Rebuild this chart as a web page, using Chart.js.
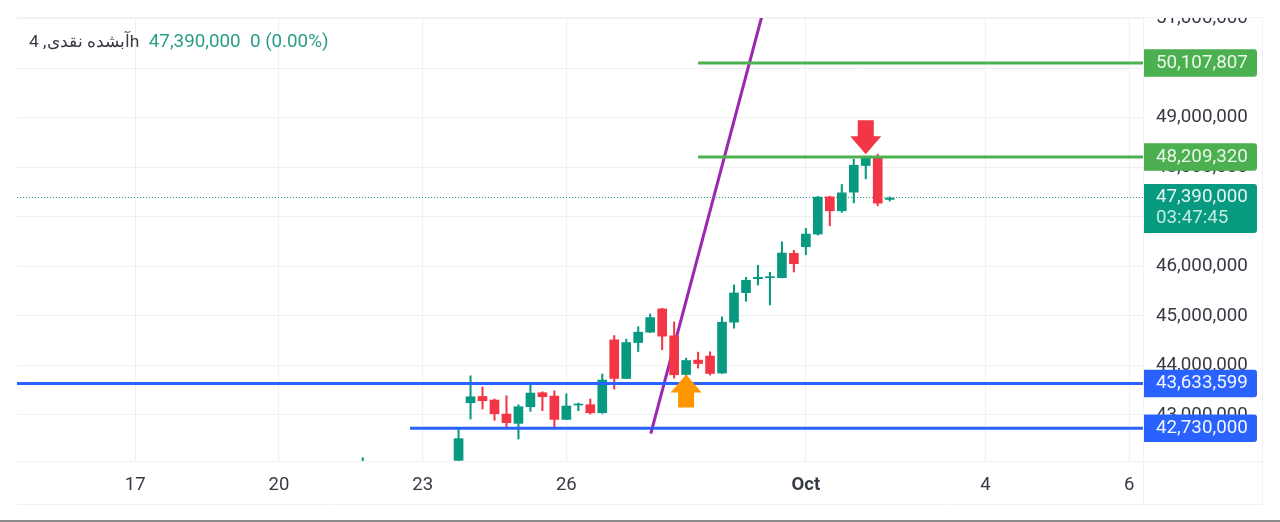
<!DOCTYPE html>
<html><head><meta charset="utf-8">
<style>
html,body{margin:0;padding:0;background:#fff;width:1280px;height:522px;overflow:hidden}
#wrap{position:absolute;left:17px;top:17px;width:1246px;height:488px}
canvas{display:block}
#title{position:absolute;left:29px;top:30px;font:18.8px Roboto,sans-serif;line-height:22px;color:#363a45;white-space:pre}
#title bdi{font-size:17.4px}
#title span{color:#2a9d8a}
#foot{position:absolute;left:0;top:520px;width:1280px;height:2px;background:#8a8a8a}
</style>
<script src="https://cdn.jsdelivr.net/npm/chart.js@4"></script>
</head><body>
<div id="wrap"><canvas id="c" width="1246" height="488"></canvas></div>
<div id="title"></div>
<div id="foot"></div>
<script>
const titleName = "آبشده نقدی, 4h";
const titleQuote = "47,390,000  0 (0.00%)";
const candleIndex = [-8,0,1,2,3,4,5,6,7,8,9,10,11,12,13,14,15,16,17,18,19,20,21,22,23,24,25,26,27,28,29,30,31,32,33,34,35,36];
const opens  = [41950000,42081000,43244000,43371000,43299000,43016000,42827000,43163000,43446000,43379000,42907000,43198000,43204000,43042000,44514000,43734000,44460000,44669000,45139000,44595000,43815000,44105000,44186000,43843000,44871000,45468000,45750000,45770000,45770000,46262000,46395000,46651000,47403000,47121000,47498000,48036000,48190000,47351000];
const highs  = [42135000,42734000,43788000,43561000,43319000,43385000,43204000,43601000,43466000,43486000,43426000,43238000,43319000,43823000,44601000,44528000,44782000,45038000,45153000,44877000,44145000,44266000,44272000,44978000,45623000,45778000,46020000,45879000,46496000,46323000,46766000,47411000,47417000,47653000,48163000,48210000,48264000,47403000];
const lows   = [41900000,42075000,42915000,43117000,42887000,42754000,42512000,43069000,43083000,42714000,42901000,43083000,43016000,43028000,43520000,43728000,44278000,44661000,44313000,43742000,43540000,43944000,43803000,43835000,44750000,45294000,45623000,45220000,45764000,45885000,46234000,46631000,46819000,47089000,47282000,47766000,47222000,47317000];
const closes = [42050000,42518000,43365000,43284000,43022000,42841000,43163000,43440000,43365000,42907000,43178000,43218000,43042000,43702000,43734000,44460000,44669000,44964000,44589000,43809000,44097000,44036000,43835000,44871000,45462000,45718000,45778000,45790000,46268000,46052000,46651000,47397000,47121000,47484000,48042000,48190000,47276000,47377000];
const xTickValues = [-27,-15,-3,9,29,44,56];
const xTickLabels = ["17","20","23","26","Oct","4","6"];
const lineBlueHigh = 43633599, lineBlueLow = 42730000, lineGreenHigh = 50107807, lineGreenLow = 48209320;
const lastPrice = 47390000;
const countdown = "03:47:45";
const blueLowStart = -4.05, greenStart = 20;
const trendX = [16.05, 25.3], trendY = [42620000, 51030000];
const xMin = -36.87, xMax = 57.15, yMin = 42067000, yMax = 51036000;
const arrowX = [19, 34];
const arrowTip = [43813000, 48264000];
const arrowTail = [43148000, 48950000];
const arrowColors = ["#FF9800", "#F23645"];
const tags = [
  {v:lineGreenHigh,bg:"#4CAF50",fg:"#E8F8E9"},
  {v:lineGreenLow,bg:"#4CAF50",fg:"#E8F8E9"},
  {v:lineBlueHigh,bg:"#2962FF",fg:"#F2F5FF"},
  {v:lineBlueLow,bg:"#2962FF",fg:"#F2F5FF"}
];
const UP="#089981", DOWN="#F23645", GRID="#EEF0F3", FONT="Roboto, sans-serif", TEXT="#363a45";

document.getElementById('title').innerHTML = '<bdi dir="ltr">'+titleName+'</bdi>  <span>'+titleQuote+'</span>';

const candleColor = closes.map((c,i)=> c>=opens[i] ? UP : DOWN);
const fmt = v => Math.round(v).toLocaleString('en-US');

function hline(y, from, color, width, order, dash){
  return {type:'line',data:[{x:from,y:y},{x:xMax,y:y}],borderColor:color,borderWidth:width,pointRadius:0,order:order,borderDash:dash||[],borderCapStyle:'butt'};
}

const overlay = {
  id:'overlay',
  afterDraw(chart){
    const g=chart.ctx, xs=chart.scales.x, ys=chart.scales.y, a=chart.chartArea;
    arrowX.forEach((ax,i)=>{
      const x=xs.getPixelForValue(ax), tip=ys.getPixelForValue(arrowTip[i]), tail=ys.getPixelForValue(arrowTail[i]);
      const d=tail>tip?1:-1, headLen=18, hw=15.5, sw=8;
      g.fillStyle=arrowColors[i];
      g.beginPath();
      g.moveTo(x,tip);
      g.lineTo(x+hw,tip+d*headLen);
      g.lineTo(x+sw,tip+d*headLen);
      g.lineTo(x+sw,tail);
      g.lineTo(x-sw,tail);
      g.lineTo(x-sw,tip+d*headLen);
      g.lineTo(x-hw,tip+d*headLen);
      g.closePath();
      g.fill();
    });
    g.strokeStyle="#F1F2F5"; g.lineWidth=1;
    g.beginPath();
    g.moveTo(0,a.bottom+.5); g.lineTo(1246,a.bottom+.5);
    g.moveTo(a.right+.5,0); g.lineTo(a.right+.5,488);
    g.moveTo(0,.5); g.lineTo(1246,.5);
    g.moveTo(0,487.5); g.lineTo(1246,487.5);
    g.moveTo(1245.5,0); g.lineTo(1245.5,488);
    g.stroke();
    const tx=a.right+13, w=113;
    g.textAlign='left'; g.textBaseline='middle'; g.font='18.8px '+FONT;
    const box=(top,h,col)=>{g.fillStyle=col;g.beginPath();g.roundRect(a.right+1,top,w,h,[0,3,3,0]);g.fill();};
    tags.forEach(t=>{
      const y=ys.getPixelForValue(t.v);
      box(y-13.7,27.5,t.bg);
      g.fillStyle=t.fg; g.fillText(fmt(t.v),tx,y);
    });
    const ly=ys.getPixelForValue(lastPrice);
    box(ly-13.5,49,UP);
    g.fillStyle="#E4F7F2"; g.fillText(fmt(lastPrice),tx,ly-.5);
    g.fillStyle="#BFEDE1"; g.fillText(countdown,tx,ly+20.5);
  }
};

new Chart(document.getElementById('c'),{
  type:'bar',
  data:{datasets:[
    {type:'line',data:trendX.map((x,i)=>({x:x,y:trendY[i]})),borderColor:"#9C27B0",borderWidth:3,pointRadius:0,order:10},
    hline(lastPrice,xMin,"#2a9d8a",1,9,[1,2]),
    {type:'bar',grouped:false,barThickness:1.4,data:candleIndex.map((x,i)=>({x:x,y:[lows[i],highs[i]]})),backgroundColor:candleColor,order:6},
    {type:'bar',grouped:false,barThickness:9,minBarLength:1,data:candleIndex.map((x,i)=>({x:x,y:[opens[i],closes[i]]})),backgroundColor:candleColor,order:5},
    hline(lineBlueHigh,xMin,"#2962FF",3,2),
    hline(lineBlueLow,blueLowStart,"#2962FF",3,2),
    hline(lineGreenHigh,greenStart,"#4CAF50",3,2),
    hline(lineGreenLow,greenStart,"#4CAF50",3,2)
  ]},
  options:{
    responsive:false,animation:false,
    layout:{padding:0},
    plugins:{legend:{display:false},tooltip:{enabled:false},title:{display:false}},
    scales:{
      x:{type:'linear',min:xMin,max:xMax,offset:false,
        grid:{color:GRID,offset:false,drawTicks:false,tickLength:0},border:{display:false},
        afterBuildTicks(s){s.ticks=xTickValues.map(v=>({value:v}));},
        afterFit(s){s.height=44;s.paddingLeft=0;s.paddingRight=0;},
        ticks:{autoSkip:false,maxRotation:0,padding:13,color:TEXT,
          font:c=>({family:FONT,size:18.5,weight:c.tick&&c.tick.value===29?'bold':'normal'}),
          callback:v=>xTickLabels[xTickValues.indexOf(v)]}
      },
      y:{type:'linear',position:'right',min:yMin,max:yMax,offset:false,
        grid:{color:GRID,drawTicks:false,tickLength:0},border:{display:false},
        afterBuildTicks(s){const t=[];for(let v=43000000;v<=51000000;v+=1000000)t.push({value:v});s.ticks=t;},
        afterFit(s){s.width=120;s.paddingTop=0;s.paddingBottom=0;},
        ticks:{autoSkip:false,padding:13,color:TEXT,font:{family:FONT,size:18.8},callback:v=>fmt(v)}
      }
    }
  },
  plugins:[overlay]
});
</script>
</body></html>
